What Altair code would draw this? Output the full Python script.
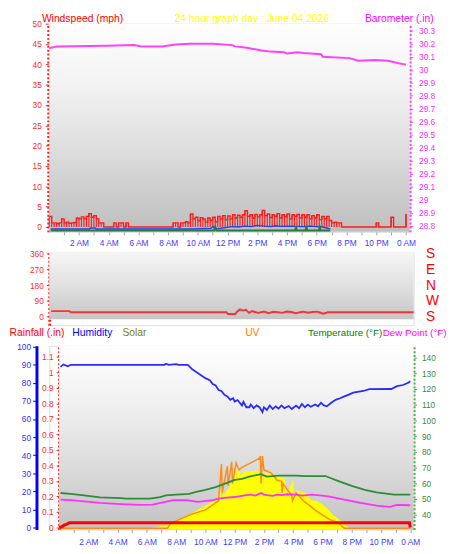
import altair as alt
import pandas as pd

FONT = "Liberation Sans"

# ---------------- time axis ----------------
HOUR_TICKS = list(range(1, 25))
LABEL_HOURS = [2, 4, 6, 8, 10, 12, 14, 16, 18, 20, 22, 24]
LABEL_TEXT = ["2 AM", "4 AM", "6 AM", "8 AM", "10 AM", "12 PM",
              "2 PM", "4 PM", "6 PM", "8 PM", "10 PM", "0 AM"]
TITLE = "24 hour graph day : June 04 2026"

# ---------------- panel 1 : wind speed + barometer ----------------
WIND_T = [i / 6 for i in range(145)]
WIND_SPEED = [
    2.6, 1.0, 1.0, 0.8, 1.0, 2.0, 1.0, 1.2, 0.9, 1.0,
    1.1, 2.2, 2.0, 2.5, 2.0, 2.6, 3.3, 2.4, 2.8, 2.0,
    1.0, 1.0, 0, 0, 0, 0, 1.0, 0, 1.0, 1.0,
    0, 1.0, 0, 0, 0, 0, 0, 0, 0, 0,
    0, 0, 0, 0, 0, 0, 0, 0, 0, 0,
    1.0, 1.0, 0, 1.0, 1.0, 1.3, 1.0, 3.2, 2.0, 2.4,
    1.5, 2.3, 2.0, 1.2, 2.2, 1.6, 2.4, 1.3, 2.6, 2.0,
    2.8, 1.8, 2.7, 2.0, 3.0, 2.2, 2.9, 2.4, 3.0, 4.0,
    2.6, 3.0, 2.2, 3.1, 2.5, 3.0, 4.1, 2.8, 3.2, 2.3,
    3.0, 2.6, 3.3, 2.2, 3.0, 2.5, 3.2, 2.0, 3.0, 2.6,
    3.1, 2.2, 3.0, 2.4, 3.0, 2.0, 2.8, 2.2, 3.0, 1.8,
    2.6, 2.0, 2.6, 1.6, 1.0, 1.2, 1.0, 1.0, 0, 0,
    0, 0, 0, 0, 0, 0, 0, 0, 0, 0,
    0, 0, 1.0, 0, 0, 0, 0, 0, 2.4, 0,
    0, 0, 0, 0, 3.2,
]
AVG_T = [0.1, 2.7, 2.75, 3.1, 3.15, 9.6, 10.9, 11.0, 11.2, 11.8, 12.3, 12.7, 13.2,
         13.6, 14.0, 14.5, 14.9, 15.2, 15.6, 16.2, 16.7, 17.1, 17.6, 18.0, 18.4, 18.9]
AVG_V = [-0.5, -0.5, -0.25, -0.25, -0.5, -0.5, -0.3, 0.15, -0.5, -0.2, 0.1, 0.0, 0.2,
         0.1, 0.4, 0.2, 0.1, 0.3, 0.15, 0.2, 0.15, 0.1, 0.2, 0.1, 0.0, -0.5]
GRN_T = [0.1, 11.1, 11.15, 11.25, 16.55, 16.6, 16.65, 17.25, 17.3, 17.35,
         18.15, 18.2, 18.25, 18.9]
GRN_V = [-0.85, -0.85, 0.3, -0.85, -0.85, 0.2, -0.85, -0.85, 0.3, -0.85,
         -0.85, 0.3, -0.85, -0.85]
BARO_T = [0.0, 0.5, 3.9, 5.7, 6.2, 7.6, 8.5, 9.5, 11.0, 12.3, 12.5, 13.3, 14.2,
          14.9, 15.8, 16.0, 16.7, 17.1, 18.3, 18.4, 20.2, 20.8, 21.9, 22.8, 23.5, 24.0]
BARO_V = [30.166, 30.18, 30.185, 30.19, 30.18, 30.18, 30.195, 30.20, 30.20, 30.19,
          30.18, 30.17, 30.15, 30.14, 30.135, 30.125, 30.135, 30.13, 30.12, 30.10,
          30.09, 30.07, 30.075, 30.07, 30.05, 30.04]
WIND_TICKS = [0, 5, 10, 15, 20, 25, 30, 35, 40, 45, 50]
BARO_TICKS = [28.8, 28.9, 29.0, 29.1, 29.2, 29.3, 29.4, 29.5, 29.6, 29.7,
              29.8, 29.9, 30.0, 30.1, 30.2, 30.3]

# ---------------- panel 2 : wind direction ----------------
DIR_T = [0, 1.2, 1.3, 11.6, 11.7, 12.2, 12.3, 12.5, 12.7, 12.9, 13.1, 13.3, 13.5,
         13.7, 14.1, 14.4, 14.7, 15.0, 15.3, 15.6, 15.9, 16.2, 16.5, 16.7, 17.0,
         17.3, 17.6, 17.8, 18.0, 18.2, 18.3, 24.0]
DIR_V = [30, 30, 24, 24, 13, 13, 27, 40, 33, 37, 20, 30, 25,
         20, 27, 18, 26, 24, 20, 28, 25, 18, 24, 27, 21,
         25, 27, 22, 15, 19, 24, 24]
DIR_TICKS = [0, 90, 180, 270, 360]
DIR_NAMES = ["S", "W", "N", "E", "S"]

# ---------------- panel 3 ----------------
HUM_T = [0.1, 0.3, 0.6, 0.8, 7.2, 7.3, 7.5, 8.0, 8.2, 8.8, 9.1, 9.5, 10.0, 10.3, 10.5,
         10.7, 10.9, 11.1, 11.3, 11.5, 11.7, 11.9, 12.0, 12.2, 12.35, 12.5, 12.6, 12.8,
         13.0, 13.1, 13.3, 13.5, 13.7, 13.9, 14.0, 14.2, 14.4, 14.6, 14.8, 15.0, 15.2,
         15.4, 15.7, 15.9, 16.2, 16.4, 16.6, 16.8, 17.0, 17.2, 17.5, 17.7, 17.9, 18.1,
         18.3, 18.6, 18.9, 19.2, 19.5, 19.8, 20.1, 20.5, 20.8, 21.2, 22.7, 23.1, 23.5,
         23.9, 24.0]
HUM_V = [88.8, 90.2, 89.2, 90, 90, 90.6, 90, 90.4, 90, 90, 87.5, 85.3, 82.6, 81.5, 79.3,
         78.5, 76, 75.5, 73.4, 72.5, 70.6, 71.5, 69.7, 70.5, 69, 67.5, 69.5, 66.5,
         66.5, 68, 66, 67.5, 66.5, 63.8, 66.5, 65, 67.5, 65.5, 67, 65.8, 67.5,
         66, 67.2, 65.5, 67.4, 66, 68.3, 66.5, 68, 66.8, 68, 67, 69, 67.5,
         67, 69, 70.6, 71.5, 72.5, 73.5, 74.6, 75.2, 75.5, 76.5, 76.6, 78.2, 78.8,
         80.2, 81]
TEMP_T = [0.1, 0.8, 1.7, 2.8, 4.2, 4.6, 6.2, 6.9, 7.3, 8.0, 8.9, 9.3, 10.0, 10.7, 11.3,
          12.0, 12.5, 13.0, 13.8, 14.2, 15.0, 16.2, 16.8, 18.2, 19.1, 20.0, 20.9, 21.7,
          22.9, 24.0]
TEMP_V = [53.8, 53.3, 52.3, 51.0, 50.6, 50.2, 50.2, 51.2, 52.3, 52.7, 53.3, 54.4, 55.8,
          57.5, 59.6, 62.1, 62.8, 64.2, 65.8, 64.2, 64.8, 64.8, 64.6, 64.6, 61.4, 58.3,
          55.8, 54.2, 52.7, 52.7]
DEW_T = [0.1, 0.8, 1.7, 2.8, 3.9, 5.5, 6.4, 7.1, 7.8, 8.7, 9.5, 10.5, 11.1, 12.0, 12.3,
         12.7, 13.1, 13.4, 13.8, 14.0, 14.2, 14.6, 14.9, 15.2, 15.6, 16.2, 16.6, 17.3,
         17.8, 18.4, 19.5, 20.6, 21.7, 22.6, 23.1, 24.0]
DEW_V = [49.6, 49.2, 48.5, 47.5, 46.9, 46.25, 46.4, 47.9, 49.2, 49.2, 48.1, 49.2, 50.6,
         51.25, 51.7, 52.3, 52.7, 52.2, 53.75, 52.8, 52.5, 52.0, 52.8, 52.4, 53.0, 52.7,
         52.2, 52.7, 52.3, 51.7, 49.6, 47.5, 45.8, 45.0, 46.25, 46.0]
SOLAR_T = [0, 6.3, 6.4, 7.3, 8.2, 8.7, 9.1, 10.0, 10.9, 11.0, 11.1, 11.6, 12.0, 12.3,
           12.4, 12.7, 13.1, 13.6, 13.9, 14.0, 14.05, 14.7, 15.4, 15.6, 15.8, 16.0,
           16.05, 16.2, 16.9, 17.2, 17.6, 18.05, 18.4, 18.7, 19.0, 19.5, 20.0, 24.0]
SOLAR_V = [0, 0, 28, 56, 125, 200, 236, 334, 445, 612, 460, 584, 750, 904,
           765, 820, 820, 834, 792, 612, 806, 778, 723, 473, 612, 695,
           473, 556, 514, 417, 403, 348, 278, 208, 167, 70, 0, 0]
UV_T = [0, 7.4, 7.6, 8.2, 9.0, 10.0, 10.9, 11.1, 11.15, 11.5, 11.55, 11.8, 11.85, 12.1,
        12.3, 12.5, 13.1, 13.7, 13.75, 13.8, 13.9, 14.0, 14.5, 14.9, 15.2, 15.25, 15.3,
        15.7, 15.9, 15.95, 16.2, 16.7, 17.6, 18.5, 19.1, 19.4, 19.5, 24.0]
UV_V = [0.1, 0.1, 0.5, 0.86, 1.3, 1.7, 2.5, 5.7, 3.2, 5.5, 3.8, 5.9, 4.0, 5.8,
        5.2, 5.4, 5.8, 6.2, 6.4, 4.0, 6.4, 5.2, 4.9, 4.3, 4.2, 3.2, 4.0,
        3.3, 3.0, 2.5, 3.2, 2.5, 1.6, 0.86, 0.6, 0.2, 0.1, 0.1]
RAIN_T = [0.0, 0.2, 0.35, 0.5, 0.7, 23.95, 24.0]
RAIN_V = [0.0, 0.006, 0.015, 0.02, 0.03, 0.03, 0.0]
HUM_TICKS = [0, 10, 20, 30, 40, 50, 60, 70, 80, 90, 100]
RAIN_TICKS = [0, 0.1, 0.2, 0.3, 0.4, 0.5, 0.6, 0.7, 0.8, 0.9, 1.0, 1.1]
TEMP_TICKS = [40, 50, 60, 70, 80, 90, 100, 110, 120, 130, 140]

# ---------------- scale domains ----------------
P1_XDOM = [0, 24.25]
P2_XDOM = [-0.13, 24.0]
P3_XDOM = [-0.671, 24.23]
WIND_DOM = [-1.2, 50]
BARO_DOM = [28.753, 30.355]
DIR_BG = [-17, 368]          # shaded part of the direction panel
DIR_DOM = [-51, 368]         # scale domain (a little empty room below)
HUM_DOM = [-1.1, 100.5]
RAIN_DOM = [-0.0127, 1.171]
TEMP_DOM = [30.6, 147.5]
SOLAR_DOM = [0, 2600]
UV_DOM = [0, 16]


def df(t, v):
    return pd.DataFrame({"t": t, "v": v})


def cond_expr(values, labels):
    s = "''"
    for val, lab in reversed(list(zip(values, labels))):
        s = f"datum.value == {val} ? '{lab}' : ({s})"
    return s


def grad(stops):
    return alt.LinearGradient(
        gradient="linear",
        stops=[alt.GradientStop(color=c, offset=o) for o, c in stops],
        x1=0, x2=0, y1=0, y2=1,
    )


def sc(dom):
    return alt.Scale(domain=dom, nice=False, zero=False)


TIME_LABELS = cond_expr(LABEL_HOURS, LABEL_TEXT)


def time_axis(**kw):
    base = dict(values=HOUR_TICKS, labelExpr=TIME_LABELS, grid=False, domain=False,
                tickSize=3, tickColor="#a0a0b8", labelColor="#3c3cff", labelFontSize=8.5,
                labelPadding=4, labelOverlap=False, labelFlush=False, labelFont=FONT)
    base.update(kw)
    return alt.Axis(**base)


def y_axis(orient, color, label_color, values, **kw):
    base = dict(orient=orient, values=values, grid=False, domainColor=color,
                domainWidth=3, domainDash=[2, 2], tickColor=color, tickSize=3,
                labelColor=label_color, labelFontSize=8.5, labelFont=FONT,
                labelPadding=4, labelOverlap=False, title=None)
    base.update(kw)
    return alt.Axis(**base)


def legend_axis(orient, text, color, tx, ty, size=10.5):
    return alt.Axis(orient=orient, labels=False, ticks=False, domain=False, grid=False,
                    title=text, titleAngle=0, titleAlign="left",
                    titleBaseline="alphabetic", titleX=tx, titleY=ty, titleColor=color,
                    titleFontSize=size, titleFontWeight="normal", titleFont=FONT)


def title_kw(text, color, tx, ty, size=10.5):
    return dict(title=text, titleAngle=0, titleAlign="left", titleBaseline="alphabetic",
                titleX=tx, titleY=ty, titleColor=color, titleFontSize=size,
                titleFontWeight="normal", titleFont=FONT)


# ================= panel 1 =================
X1 = alt.X("t:Q", scale=sc(P1_XDOM),
           axis=time_axis(**title_kw(TITLE, "#ffff00", 127, -214)))
bg1 = alt.Chart(pd.DataFrame({"t": [P1_XDOM[0]], "t2": [P1_XDOM[1]],
                              "lo": [WIND_DOM[0]], "hi": [WIND_DOM[1]]})).mark_rect(
    fill=grad([(0, "#fefefe"), (0.3, "#f2f2f2"), (0.6, "#dedede"), (1, "#bebebe")])
).encode(x=X1, x2="t2:Q", y=alt.Y("lo:Q", scale=sc(WIND_DOM), axis=None), y2="hi:Q")

wind_axis = y_axis("left", "#ff2020", "#ff2a2a", WIND_TICKS, offset=1,
                   **title_kw("Windspeed (mph)", "#ff0000", -7, -2))
wind_df = df(WIND_T, WIND_SPEED)
wind_df["base"] = 0
wind = alt.Chart(wind_df).mark_line(
    interpolate="step-after", color="#ff1a1a", strokeWidth=1.4
).encode(x=X1, y=alt.Y("v:Q", scale=sc(WIND_DOM), axis=wind_axis))
wind_bars = alt.Chart(wind_df).mark_rule(color="#ff2020", strokeWidth=1.2).encode(
    x=X1, y=alt.Y("base:Q", scale=sc(WIND_DOM), axis=None), y2="v:Q")
avg = alt.Chart(df(AVG_T, AVG_V)).mark_line(color="#2040ff", strokeWidth=1.4).encode(
    x=X1, y=alt.Y("v:Q", scale=sc(WIND_DOM), axis=None))
grn = alt.Chart(df(GRN_T, GRN_V)).mark_line(color="#2a7a3a", strokeWidth=2).encode(
    x=X1, y=alt.Y("v:Q", scale=sc(WIND_DOM), axis=None))
baro_axis = y_axis("right", "#ff40ff", "#ff2aff", BARO_TICKS, format=".1~f",
                   labelPadding=6, **title_kw("Barometer (.in)", "#ff00ff", -46, -2))
baro = alt.Chart(df(BARO_T, BARO_V)).mark_line(color="#ff40ff", strokeWidth=2).encode(
    x=X1, y=alt.Y("v:Q", scale=sc(BARO_DOM), axis=baro_axis))

p1 = alt.layer(bg1, wind_bars, wind, avg, grn, baro).resolve_scale(
    y="independent").properties(width=367, height=212)

# ================= panel 2 =================
X2 = alt.X("t:Q", scale=sc(P2_XDOM), axis=None)
compass_axis = alt.Axis(orient="right", values=DIR_TICKS,
                        labelExpr=cond_expr(DIR_TICKS, DIR_NAMES), ticks=False,
                        domain=False, grid=False, labelColor="#ff0000", labelFontSize=14,
                        labelFont=FONT, labelPadding=12, labelOverlap=False, title=None)
bg2 = alt.Chart(pd.DataFrame({"t": [P2_XDOM[0]], "t2": [P2_XDOM[1]],
                              "lo": [DIR_BG[0]], "hi": [DIR_BG[1]]})).mark_rect(
    fill=grad([(0, "#f6f6f6"), (0.5, "#e0e0e0"), (1, "#c6c6c6")])
).encode(x=X2, x2="t2:Q", y=alt.Y("lo:Q", scale=sc(DIR_DOM), axis=compass_axis),
         y2="hi:Q")
wdir = alt.Chart(df(DIR_T, DIR_V)).mark_line(color="#ff3030", strokeWidth=2).encode(
    x=X2, y=alt.Y("v:Q", scale=sc(DIR_DOM),
                  axis=y_axis("left", "#ff2020", "#ff2a2a", DIR_TICKS, labelPadding=3)))
p2 = alt.layer(bg2, wdir).resolve_scale(y="independent").properties(width=371, height=74)

# ================= panel 3 =================
X3 = alt.X("t:Q", scale=sc(P3_XDOM), axis=time_axis(title=None, labelPadding=5))
bg3 = alt.Chart(pd.DataFrame({"t": [0], "t2": [P3_XDOM[1]],
                              "lo": [HUM_DOM[0]], "hi": [HUM_DOM[1]]})).mark_rect(
    fill=grad([(0, "#ffffff"), (0.35, "#eeeeee"), (0.65, "#dcdcdc"), (1, "#c2c2c2")])
).encode(x=X3, x2="t2:Q", y=alt.Y("lo:Q", scale=sc(HUM_DOM), axis=None), y2="hi:Q")
solar = alt.Chart(df(SOLAR_T, SOLAR_V)).mark_area(color="#ffff00").encode(
    x=X3, y=alt.Y("v:Q", scale=sc(SOLAR_DOM),
                  axis=legend_axis("left", "Solar", "#808000", 74, -10)))
uv = alt.Chart(df(UV_T, UV_V)).mark_line(color="#ff8c1a", strokeWidth=1.5).encode(
    x=X3, y=alt.Y("v:Q", scale=sc(UV_DOM),
                  axis=legend_axis("left", "UV", "#ff8000", 199, -10)))
temp = alt.Chart(df(TEMP_T, TEMP_V)).mark_line(color="#2e8b3a", strokeWidth=1.8).encode(
    x=X3, y=alt.Y("v:Q", scale=sc(TEMP_DOM),
                  axis=y_axis("right", "#50b050", "#3c8c3c", TEMP_TICKS, labelPadding=5,
                              **title_kw("Temperature (°F)", "#008000", -108, -10, 10))))
dew = alt.Chart(df(DEW_T, DEW_V)).mark_line(color="#ff30ff", strokeWidth=1.8).encode(
    x=X3, y=alt.Y("v:Q", scale=sc(TEMP_DOM),
                  axis=legend_axis("right", "Dew Point (°F)", "#ff00ff", -32, -10, 10)))
hum = alt.Chart(df(HUM_T, HUM_V)).mark_line(color="#2a2aff", strokeWidth=1.8).encode(
    x=X3, y=alt.Y("v:Q", scale=sc(HUM_DOM),
                  axis=y_axis("left", "#0000ff", "#3333ff", HUM_TICKS, offset=13,
                              domainDash=[1, 0], tickSize=4, labelPadding=2,
                              **title_kw("Humidity", "#0000ff", 36, -10))))
rain = alt.Chart(df(RAIN_T, RAIN_V)).mark_line(color="#ff0000", strokeWidth=3).encode(
    x=X3, y=alt.Y("v:Q", scale=sc(RAIN_DOM),
                  axis=y_axis("left", "#ff2020", "#ff2a2a", RAIN_TICKS, offset=-10,
                              format=".1~f", labelPadding=3,
                              **title_kw("Rainfall (.in)", "#ff0000", -51, -10))))
p3 = alt.layer(bg3, solar, uv, temp, dew, hum, rain).resolve_scale(
    y="independent").properties(width=371, height=187)

chart = alt.vconcat(p1, p2, p3, spacing=21, bounds="flush", padding=0,
                    background="white").configure_view(strokeWidth=0).configure(
    font=FONT)

chart.save("out.html", embed_options={"renderer": "svg", "actions": False})
